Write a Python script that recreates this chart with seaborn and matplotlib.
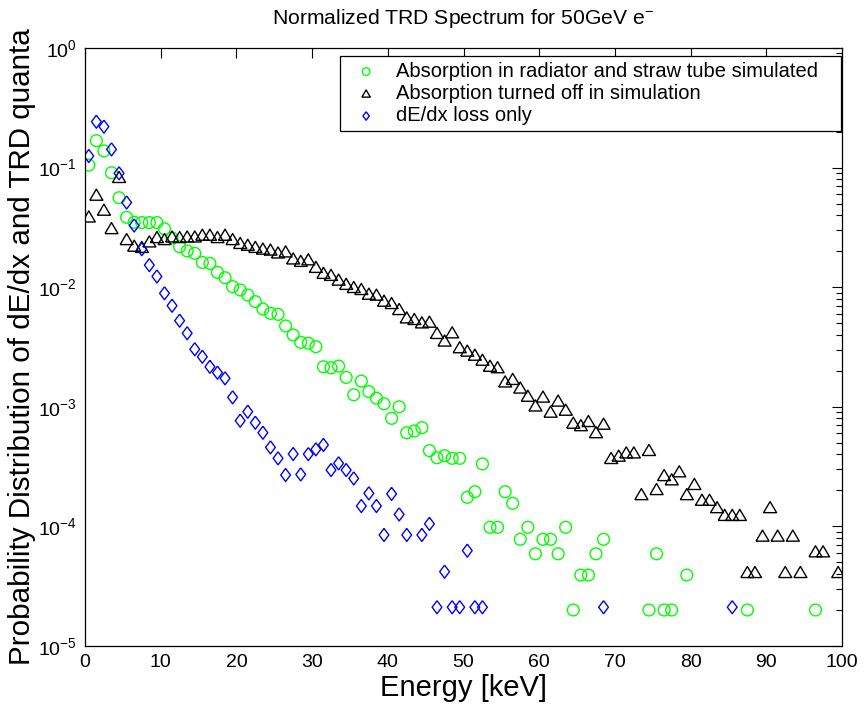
import numpy as np
import pandas as pd
import matplotlib
matplotlib.use("Agg")
import matplotlib.pyplot as plt
import seaborn as sns
from matplotlib.ticker import LogLocator, NullFormatter, FixedLocator
from matplotlib.markers import MarkerStyle

# ---------------- data ----------------
energy_kev = [0.5, 1.5, 2.5, 3.5, 4.5, 5.5, 6.5, 7.5, 8.5, 9.5,
              10.5, 11.5, 12.5, 13.5, 14.5, 15.5, 16.5, 17.5, 18.5, 19.5,
              20.5, 21.5, 22.5, 23.5, 24.5, 25.5, 26.5, 27.5, 28.5, 29.5,
              30.5, 31.5, 32.5, 33.5, 34.5, 35.5, 36.5, 37.5, 38.5, 39.5,
              40.5, 41.5, 42.5, 43.5, 44.5, 45.5, 46.5, 47.5, 48.5, 49.5,
              50.5, 51.5, 52.5, 53.5, 54.5, 55.5, 56.5, 57.5, 58.5, 59.5,
              60.5, 61.5, 62.5, 63.5, 64.5, 65.5, 66.5, 67.5, 68.5, 69.5,
              70.5, 71.5, 72.5, 73.5, 74.5, 75.5, 76.5, 77.5, 78.5, 79.5,
              80.5, 81.5, 82.5, 83.5, 84.5, 85.5, 86.5, 87.5, 88.5, 89.5,
              90.5, 91.5, 92.5, 93.5, 94.5, 95.5, 96.5, 97.5, 98.5, 99.5]

nan = float("nan")

absorption_on = [
    0.105, 0.168, 0.138, 0.0906, 0.056, 0.0384, 0.0349, 0.0347, 0.0347, 0.0347,
    0.0308, 0.0258, 0.0218, 0.0201, 0.0192, 0.0161, 0.0158, 0.0133, 0.0120, 0.0101,
    0.00948, 0.00861, 0.00757, 0.00657, 0.00605, 0.00593, 0.00474, 0.00399, 0.00346, 0.00340,
    0.00318, 0.00216, 0.00212, 0.00219, 0.00176, 0.00126, 0.00164, 0.00134, 0.00118, 0.00106,
    0.000801, 0.00100, 0.000607, 0.000628, 0.000669, 0.00043, 0.000375, 0.00039, 0.000371, 0.000371,
    0.000175, 0.000195, 0.000333, 9.83e-5, 9.83e-5, 0.000195, 0.000156, 7.8e-5, 9.83e-5, 5.9e-5,
    7.8e-5, 7.8e-5, 5.9e-5, 9.83e-5, 2.0e-5, 3.92e-5, 3.92e-5, 5.9e-5, 7.8e-5, nan,
    nan, nan, nan, nan, 2.0e-5, 5.9e-5, 2.0e-5, 2.0e-5, nan, 3.92e-5,
    nan, nan, nan, nan, nan, nan, nan, 2.0e-5, nan, nan,
    nan, nan, nan, nan, nan, nan, 2.0e-5, nan, nan, nan]

absorption_off = [
    0.0388, 0.059, 0.0442, 0.031, 0.083, 0.0251, 0.0221, 0.0216, 0.024, 0.0261,
    0.0251, 0.0264, 0.0261, 0.0264, 0.0264, 0.0273, 0.0273, 0.0261, 0.0273, 0.0251,
    0.0233, 0.0225, 0.0216, 0.0209, 0.0205, 0.0194, 0.0198, 0.0173, 0.0165, 0.0170,
    0.0147, 0.0131, 0.0126, 0.0115, 0.0106, 0.00998, 0.0096, 0.00877, 0.00861, 0.00767,
    0.00733, 0.00653, 0.00556, 0.00539, 0.00505, 0.00512, 0.00412, 0.00356, 0.00417, 0.00313,
    0.00293, 0.00271, 0.00246, 0.00219, 0.00213, 0.00162, 0.0017, 0.00144, 0.00123, 0.00102,
    0.00121, 0.000905, 0.00112, 0.00094, 0.000732, 0.000698, 0.000756, 0.00061, 0.000718, 0.000371,
    0.000388, 0.000413, 0.000413, 0.000185, 0.000433, 0.000204, 0.000267, 0.000246, 0.000287, 0.000185,
    0.000225, 0.000166, 0.000166, 0.000144, 0.000124, 0.000124, 0.000124, 4.13e-5, 4.13e-5, 8.32e-5,
    0.000144, 8.32e-5, 4.13e-5, 8.32e-5, 4.13e-5, nan, 6.15e-5, 6.15e-5, nan, 4.13e-5]

dedx_only = [
    0.125, 0.242, 0.220, 0.142, 0.0896, 0.0511, 0.0328, 0.0208, 0.0153, 0.0123,
    0.00889, 0.0070, 0.00525, 0.00412, 0.00303, 0.00262, 0.00216, 0.00193, 0.00173, 0.0012,
    0.000765, 0.00091, 0.000736, 0.000607, 0.000458, 0.000371, 0.000269, 0.000403, 0.000272, 0.000402,
    0.000441, 0.00048, 0.000296, 0.000337, 0.000296, 0.000252, 0.000148, 0.000189, 0.000148, 8.48e-5,
    0.000187, 0.000126, 8.48e-5, nan, 8.48e-5, 0.000105, 2.11e-5, 4.18e-5, 2.11e-5, 2.11e-5,
    6.27e-5, 2.11e-5, 2.11e-5, nan, nan, nan, nan, nan, nan, nan,
    nan, nan, nan, nan, nan, nan, nan, nan, 2.11e-5, nan,
    nan, nan, nan, nan, nan, nan, nan, nan, nan, nan,
    nan, nan, nan, nan, nan, 2.11e-5, nan, nan, nan, nan,
    nan, nan, nan, nan, nan, nan, nan, nan, nan, nan]

series_labels = ["Absorption in radiator and straw tube simulated",
                 "Absorption turned off in simulation",
                 "dE/dx loss only"]
x_ticks = [0, 10, 20, 30, 40, 50, 60, 70, 80, 90, 100]
title_text = "Normalized TRD Spectrum for 50GeV e$^{-}$"
xlabel_text = "Energy [keV]"
ylabel_text = "Probability Distribution of dE/dx and TRD quanta"

# ---------------- style ----------------
sns.set_style("white")
plt.rcParams["font.family"] = ["Liberation Sans", "DejaVu Sans"]
plt.rcParams["mathtext.default"] = "regular"
for key in ["text.color", "axes.labelcolor", "xtick.color", "ytick.color", "axes.edgecolor"]:
    plt.rcParams[key] = "black"

fig = plt.figure(figsize=(8.65, 7.08), dpi=100)
ax = fig.add_axes([85 / 865, 62 / 708, (842 - 85) / 865, (646 - 48) / 708])

tri = MarkerStyle([(-1.0, -0.8), (1.0, -0.8), (0.0, 0.9), (-1.0, -0.8)])
dia = MarkerStyle([(0.0, 1.0), (0.75, 0.0), (0.0, -1.0), (-0.75, 0.0), (0.0, 1.0)])

specs = [
    (absorption_on, "o", "#00ff00", 72),
    (absorption_off, tri, "#000000", 88),
    (dedx_only, dia, "#0000ff", 88),
]

for (vals, mk, col, size), lab in zip(specs, series_labels):
    df = pd.DataFrame({"energy": energy_kev, "prob": vals}).dropna()
    sns.scatterplot(data=df, x="energy", y="prob", ax=ax, marker=mk, s=size,
                    facecolor="none", edgecolor=col, linewidth=1.0,
                    label=lab, legend=False)

ax.set_yscale("log")
ax.set_xlim(0, 100)
ax.set_ylim(1e-5, 1)
ax.xaxis.set_major_locator(FixedLocator(x_ticks))
ax.yaxis.set_major_locator(LogLocator(base=10, numticks=10))
ax.yaxis.set_minor_locator(LogLocator(base=10, subs=np.arange(2, 10), numticks=20))
ax.yaxis.set_minor_formatter(NullFormatter())

ax.tick_params(which="both", direction="in", top=True, right=True,
               labelsize=14, colors="black", width=0.8)
ax.tick_params(which="major", length=7, pad=6)
ax.tick_params(which="minor", length=4)
for sp in ax.spines.values():
    sp.set_color("black")
    sp.set_linewidth(0.9)

ax.set_title(title_text, fontsize=15.2, pad=17)
ax.set_xlabel(xlabel_text, fontsize=21, labelpad=2)
ax.set_ylabel(ylabel_text, fontsize=21.3, labelpad=1)

handles, labels = ax.get_legend_handles_labels()
labels = [labels[0] + "   ", labels[1], labels[2]]
leg = ax.legend(handles, labels, loc="upper right", bbox_to_anchor=(0.999, 0.987),
                borderaxespad=0, fontsize=14.5, frameon=True, fancybox=False,
                framealpha=1, edgecolor="black", handlelength=2.0, handletextpad=0.5,
                labelspacing=0.16, borderpad=0.3, markerscale=0.65)
leg.get_frame().set_linewidth(0.9)

fig.savefig("out.png", dpi=100, facecolor="white")
